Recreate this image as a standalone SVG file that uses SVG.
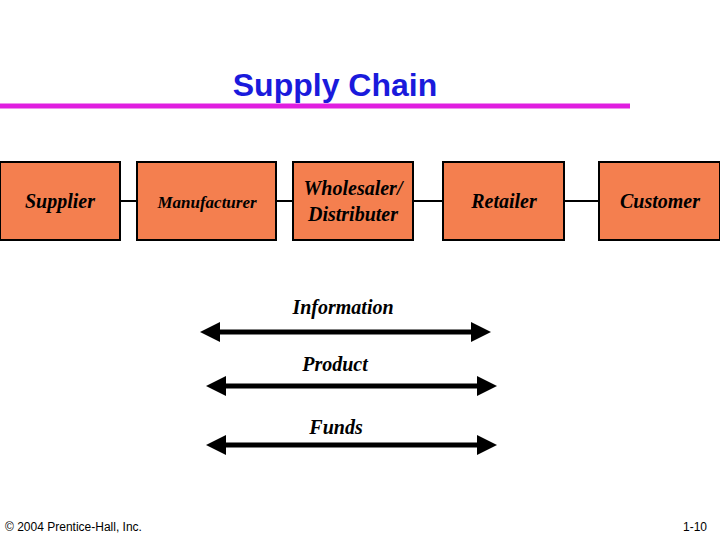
<svg xmlns="http://www.w3.org/2000/svg" width="720" height="540" viewBox="0 0 720 540">
<style>
.box{fill:#f47f4f;stroke:#000;stroke-width:2}
.lbl{font-family:"Liberation Serif",serif;font-style:italic;font-weight:bold;font-size:20px;fill:#000;text-anchor:middle}
.sm{font-size:17px}
.link{stroke:#000;stroke-width:2}
.arr{stroke:#000;stroke-width:5}
.foot{font-family:"Liberation Sans",sans-serif;font-size:12px;fill:#000}
</style>
<defs>
<marker id="ah" viewBox="0 0 10 10" refX="2" refY="5" markerWidth="4.4" markerHeight="4" orient="auto-start-reverse" markerUnits="strokeWidth">
<path d="M0,0 L10,5 L0,10 Z" fill="#000"/>
</marker>
</defs>
<text x="335" y="96" font-family="Liberation Sans,sans-serif" font-weight="bold" font-size="32" fill="#1a1adc" text-anchor="middle">Supply Chain</text>
<line x1="0" y1="106" x2="630" y2="106" stroke="#e01ee0" stroke-width="5"/>
<g id="connectors">
<line class="link" x1="120" y1="201" x2="137" y2="201"/>
<line class="link" x1="276" y1="201" x2="293" y2="201"/>
<line class="link" x1="413" y1="201" x2="443" y2="201"/>
<line class="link" x1="564" y1="201" x2="599" y2="201"/>
<line class="arr" x1="216" y1="332" x2="475" y2="332" marker-start="url(#ah)" marker-end="url(#ah)"/>
<line class="arr" x1="222" y1="386" x2="481" y2="386" marker-start="url(#ah)" marker-end="url(#ah)"/>
<line class="arr" x1="222" y1="445" x2="481" y2="445" marker-start="url(#ah)" marker-end="url(#ah)"/>
</g>
<g id="supplier"><rect class="box" x="0" y="162" width="120" height="78"/><text class="lbl" x="60" y="208">Supplier</text></g>
<g id="manufacturer"><rect class="box" x="137" y="162" width="139" height="78"/><text class="lbl sm" x="207" y="208">Manufacturer</text></g>
<g id="wholesaler"><rect class="box" x="293" y="162" width="120" height="78"/><text class="lbl" x="353" y="195">Wholesaler/</text><text class="lbl" x="353" y="221">Distributer</text></g>
<g id="retailer"><rect class="box" x="443" y="162" width="121" height="78"/><text class="lbl" x="504" y="208">Retailer</text></g>
<g id="customer"><rect class="box" x="599" y="162" width="121" height="78"/><text class="lbl" x="660" y="208">Customer</text></g>
<text class="lbl" x="343" y="314">Information</text>
<text class="lbl" x="335" y="371">Product</text>
<text class="lbl" x="336" y="434">Funds</text>
<text class="foot" x="5" y="531">© 2004 Prentice-Hall, Inc.</text>
<text class="foot" x="707" y="531" text-anchor="end">1-10</text>
</svg>
